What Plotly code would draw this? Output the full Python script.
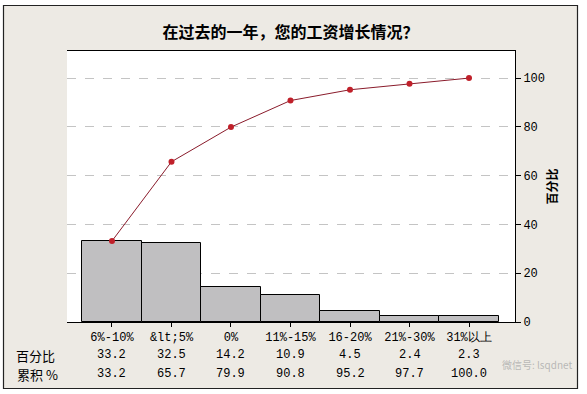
import plotly.graph_objects as go

categories = ["6%-10%", "&amp;lt;5%", "0%", "11%-15%", "16-20%", "21%-30%", "31%以上"]
percent = [33.2, 32.5, 14.2, 10.9, 4.5, 2.4, 2.3]
cumulative = [33.2, 65.7, 79.9, 90.8, 95.2, 97.7, 100.0]
row_labels = ["百分比", "累积 %"]
y_ticks = [0, 20, 40, 60, 80, 100]
title_text = "在过去的一年，您的工资增长情况？"
y_title = "百分比"
watermark = "微信号: lsqdnet"

x = list(range(len(categories)))
cjk = "Noto Sans CJK SC"
mono = "Liberation Mono, DejaVu Sans Mono, monospace"

fig = go.Figure()
fig.add_trace(go.Bar(
    x=x, y=percent, width=1.0,
    marker=dict(color="#c0bfc1", line=dict(color="#000000", width=1)),
    showlegend=False, hoverinfo="skip",
))
fig.add_trace(go.Scatter(
    x=x, y=cumulative, mode="lines+markers",
    line=dict(color="#8a1b2b", width=1),
    marker=dict(color="#c0202a", size=6),
    showlegend=False,
))

H_PLOT = 271.0
def py(ypx):
    return (322 - ypx) / H_PLOT

annotations = []
annotations.append(dict(x=(35 - 67) / 448.0, y=py(355), xref="paper", yref="paper",
                        text=row_labels[0], showarrow=False,
                        font=dict(family=cjk, size=13, color="#000"), xanchor="center", yanchor="middle"))
annotations.append(dict(x=(37 - 67) / 448.0, y=py(374), xref="paper", yref="paper",
                        text=row_labels[1], showarrow=False,
                        font=dict(family=cjk, size=13, color="#000"), xanchor="center", yanchor="middle"))
for i in x:
    annotations.append(dict(x=i, y=py(355), xref="x", yref="paper",
                            text=f"{percent[i]:.1f}", showarrow=False,
                            font=dict(family=mono, size=12, color="#000"), yanchor="middle"))
    annotations.append(dict(x=i, y=py(374), xref="x", yref="paper",
                            text=f"{cumulative[i]:.1f}", showarrow=False,
                            font=dict(family=mono, size=12, color="#000"), yanchor="middle"))
annotations.append(dict(x=(537 - 67) / 448.0, y=py(364), xref="paper", yref="paper",
                        text=watermark, showarrow=False,
                        font=dict(family=cjk, size=10, color="rgba(170,170,170,0.8)"),
                        xanchor="center", yanchor="middle"))

shapes = [
    dict(type="rect", xref="paper", yref="paper",
         x0=(3.5 - 67) / 448.0, x1=(577.5 - 67) / 448.0,
         y0=py(388.5), y1=py(5.5),
         line=dict(color="#222222", width=1.2), fillcolor="#edeae4", layer="below"),
    dict(type="rect", xref="paper", yref="paper", x0=0, x1=1, y0=0, y1=1,
         line=dict(width=0), fillcolor="#ffffff", layer="below"),
]

fig.update_layout(
    width=587, height=394,
    margin=dict(l=67, r=72, t=51, b=72),
    paper_bgcolor="#ffffff", plot_bgcolor="#ffffff",
    title=dict(text=f"<b>{title_text}</b>", x=0.495, xanchor="center", y=1 - 32 / 394.0, yanchor="middle",
               font=dict(family=cjk, size=16, color="#000")),
    xaxis=dict(range=[-0.756, 6.773], tickmode="array", tickvals=x, ticktext=categories,
               ticks="outside", ticklen=4, tickcolor="#000", showline=True, linecolor="#000",
               linewidth=1, mirror=True, showgrid=False, zeroline=False,
               tickfont=dict(family=mono, size=12, color="#000")),
    yaxis=dict(range=[0, 111.1], side="right", tickvals=y_ticks, ticks="outside", ticklen=5,
               tickcolor="#000", showline=True, linecolor="#000", linewidth=1,
               showgrid=True, gridcolor="#c4c4c4", griddash="dash", gridwidth=1, zeroline=False,
               tickfont=dict(family=mono, size=12, color="#000"),
               title=dict(text=f"<b>{y_title}</b>", font=dict(family=cjk, size=12, color="#000"), standoff=4)),
    bargap=0,
    annotations=annotations,
    shapes=shapes,
)

fig.write_html("out.html", config={"displayModeBar": False},
               post_script="document.body.style.margin='0px';")
